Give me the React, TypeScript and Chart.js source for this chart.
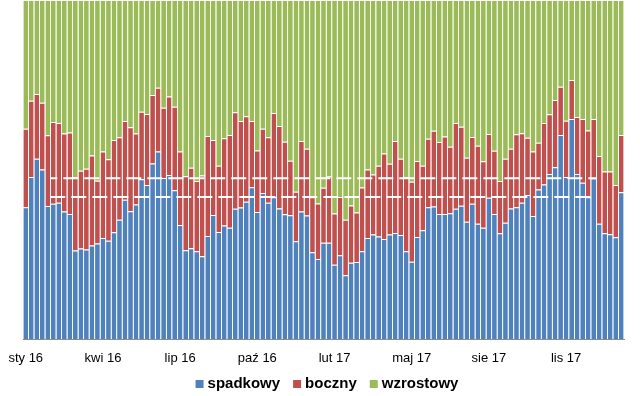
import React, { useEffect, useRef } from "react";
import { Chart, registerables } from "chart.js";

Chart.register(...registerables);

const tickLabels = ["sty 16", "kwi 16", "lip 16", "paź 16", "lut 17", "maj 17", "sie 17", "lis 17"];
const labelEvery = 14;

const spadkowy = [
  38.9, 47.8, 53.2, 50.0, 39.2, 39.9, 40.2, 37.6, 36.9, 26.1,
  26.7, 26.4, 27.6, 28.2, 29.8, 29.0, 31.5, 35.2, 41.1, 37.7,
  39.7, 47.1, 45.4, 51.8, 55.3, 47.5, 48.4, 43.9, 33.6, 26.2,
  26.8, 25.9, 24.4, 30.4, 36.6, 31.6, 33.5, 32.8, 38.4, 38.8,
  40.5, 44.8, 37.5, 43.1, 40.2, 41.8, 38.5, 36.8, 36.5, 28.8,
  37.6, 36.4, 25.6, 23.6, 28.4, 28.4, 21.9, 24.7, 18.8, 22.5,
  22.7, 25.9, 29.8, 30.8, 30.2, 29.5, 30.8, 31.3, 30.7, 25.9,
  22.8, 30.1, 32.1, 38.9, 39.1, 36.9, 36.9, 37.1, 38.4, 39.3,
  34.6, 39.9, 34.0, 32.8, 41.7, 36.9, 31.2, 34.3, 38.5, 38.9,
  40.2, 42.5, 36.3, 44.1, 45.6, 48.7, 50.7, 60.2, 47.8, 64.9,
  48.7, 46.1, 41.8, 47.4, 34.0, 31.2, 30.9, 30.0, 43.3,
];

const boczny = [
  23.1, 22.5, 19.1, 19.7, 20.9, 24.1, 23.5, 23.0, 24.0, 21.7,
  22.9, 23.8, 26.5, 18.5, 25.5, 24.0, 27.2, 24.3, 23.2, 24.8,
  20.9, 19.9, 21.0, 20.2, 18.8, 20.7, 23.1, 24.6, 21.7, 21.8,
  23.7, 20.7, 23.8, 29.5, 22.1, 19.5, 25.7, 27.4, 28.5, 25.5,
  25.2, 19.5, 18.1, 18.9, 19.3, 24.9, 24.3, 21.4, 16.1, 14.6,
  20.8, 19.7, 16.2, 16.4, 16.2, 19.5, 15.1, 17.2, 16.4, 16.9,
  14.6, 18.8, 20.2, 17.7, 20.9, 25.2, 20.9, 27.1, 22.5, 21.9,
  23.6, 22.4, 19.0, 20.2, 22.3, 21.2, 22.8, 19.6, 25.3, 23.3,
  18.9, 19.7, 23.0, 19.6, 18.8, 18.6, 15.4, 18.9, 17.6, 21.5,
  20.5, 16.9, 19.0, 13.8, 18.1, 17.6, 19.8, 14.2, 16.6, 11.5,
  16.8, 18.8, 19.7, 17.5, 20.0, 18.2, 18.5, 15.4, 16.9,
];

const wzrostowy = [
  38.0, 29.7, 27.7, 30.3, 39.9, 36.0, 36.3, 39.4, 39.1, 52.2,
  50.4, 49.8, 45.9, 53.3, 44.7, 47.0, 41.3, 40.5, 35.7, 37.5,
  39.4, 33.0, 33.6, 28.0, 25.9, 31.8, 28.5, 31.5, 44.7, 52.0,
  49.5, 53.4, 51.8, 40.1, 41.3, 48.9, 40.8, 39.8, 33.1, 35.7,
  34.3, 35.7, 44.4, 38.0, 40.5, 33.3, 37.2, 41.8, 47.4, 56.6,
  41.6, 43.9, 58.2, 60.0, 55.4, 52.1, 63.0, 58.1, 64.8, 60.6,
  62.7, 55.3, 50.0, 51.5, 48.9, 45.3, 48.3, 41.6, 46.8, 52.2,
  53.6, 47.5, 48.9, 40.9, 38.6, 41.9, 40.3, 43.3, 36.3, 37.4,
  46.5, 40.4, 43.0, 47.6, 39.5, 44.5, 53.4, 46.8, 43.9, 39.6,
  39.3, 40.6, 44.7, 42.1, 36.3, 33.7, 29.5, 25.6, 35.6, 23.6,
  34.5, 35.1, 38.5, 35.1, 46.0, 50.6, 50.6, 54.6, 39.8,
];

// dashed white reference levels (% of total)
const referenceLevels = [47.4, 41.9];

const categories = spadkowy.map((_, i) => `t${i + 1}`);

const FONT = "'Liberation Sans', Arial, sans-serif";

// Legend drawn on the canvas below the axis (Excel-like spacing)
const bottomLegend = {
  id: "bottomLegend",
  afterDraw(chart: any) {
    const ctx: CanvasRenderingContext2D = chart.ctx;
    ctx.save();
    ctx.font = `bold 15px ${FONT}`;
    ctx.textBaseline = "middle";
    const items = chart.data.datasets
      .filter((d: any) => d.type === "bar")
      .map((d: any) => ({ text: d.label as string, color: d.backgroundColor as string, w: ctx.measureText(d.label).width }));
    const box = 8;
    const boxGap = 4;
    const itemGap = 13;
    const total =
      items.reduce((s: number, it: any) => s + box + boxGap + it.w, 0) + itemGap * (items.length - 1);
    let x = chart.width / 2 + 7 - total / 2;
    const y = chart.height - 12.5;
    items.forEach((it: any) => {
      ctx.fillStyle = it.color;
      ctx.fillRect(x, y - 3.5, box, box);
      x += box + boxGap;
      ctx.fillStyle = "#000";
      ctx.fillText(it.text, x, y);
      x += it.w + itemGap;
    });
    ctx.restore();
  },
};

export default function App() {
  const canvasRef = useRef<HTMLCanvasElement | null>(null);

  useEffect(() => {
    const ctx = canvasRef.current;
    if (!ctx) return;
    const barCommon = {
      type: "bar" as const,
      grouped: false,
      barPercentage: 0.86,
      categoryPercentage: 1,
      borderWidth: { top: 1, left: 0, right: 0, bottom: 0 },
      borderColor: "rgba(255,255,255,0.45)",
      borderSkipped: "start" as const,
      xAxisID: "x",
      yAxisID: "y",
    };
    const chart = new Chart(ctx, {
      type: "bar",
      data: {
        labels: categories,
        datasets: [
          { ...barCommon, label: "spadkowy", data: spadkowy, backgroundColor: "#4F81BD" },
          { ...barCommon, label: "boczny", data: boczny, backgroundColor: "#C0504D" },
          { ...barCommon, label: "wzrostowy", data: wzrostowy, backgroundColor: "#9BBB59" },
          ...referenceLevels.map((v, i) => ({
            type: "line" as const,
            label: `ref${i}`,
            data: [{ x: 0, y: v }, { x: 1, y: v }],
            xAxisID: "xl",
            yAxisID: "yl",
            borderColor: "#ffffff",
            borderWidth: 2,
            borderDash: [15, 6],
            borderDashOffset: i === 0 ? 8 : 0,
            pointRadius: 0,
            fill: false,
            order: -1,
          })),
        ] as any,
      },
      plugins: [bottomLegend],
      options: {
        responsive: false,
        animation: false,
        layout: { padding: { left: 23, right: 16, top: 0, bottom: 28 } },
        plugins: {
          tooltip: { enabled: false },
          legend: { display: false },
        },
        scales: {
          x: {
            stacked: true,
            grid: {
              display: true,
              drawOnChartArea: false,
              drawTicks: true,
              tickLength: 10,
              color: "rgba(0,0,0,0)",
              tickColor: "rgba(0,0,0,0)",
            },
            border: { display: true, color: "#8c8c8c", width: 1 },
            ticks: {
              autoSkip: false,
              maxRotation: 0,
              padding: 3,
              color: "#000",
              font: { family: FONT, size: 13, lineHeight: 1 },
              callback: (_v, index) =>
                index % labelEvery === 0 ? tickLabels[index / labelEvery] ?? "" : "",
            },
          },
          y: {
            stacked: true,
            display: false,
            min: 0,
            max: 100,
          },
          xl: { type: "linear", display: false, min: 0, max: 1 },
          yl: { type: "linear", display: false, min: 0, max: 100 },
        },
      },
    });
    return () => chart.destroy();
  }, []);

  return (
    <div style={{ position: "fixed", left: 0, top: 0, width: 640, height: 396, background: "#fff" }}>
      <canvas ref={canvasRef} width={640} height={396} style={{ display: "block" }} />
    </div>
  );
}
